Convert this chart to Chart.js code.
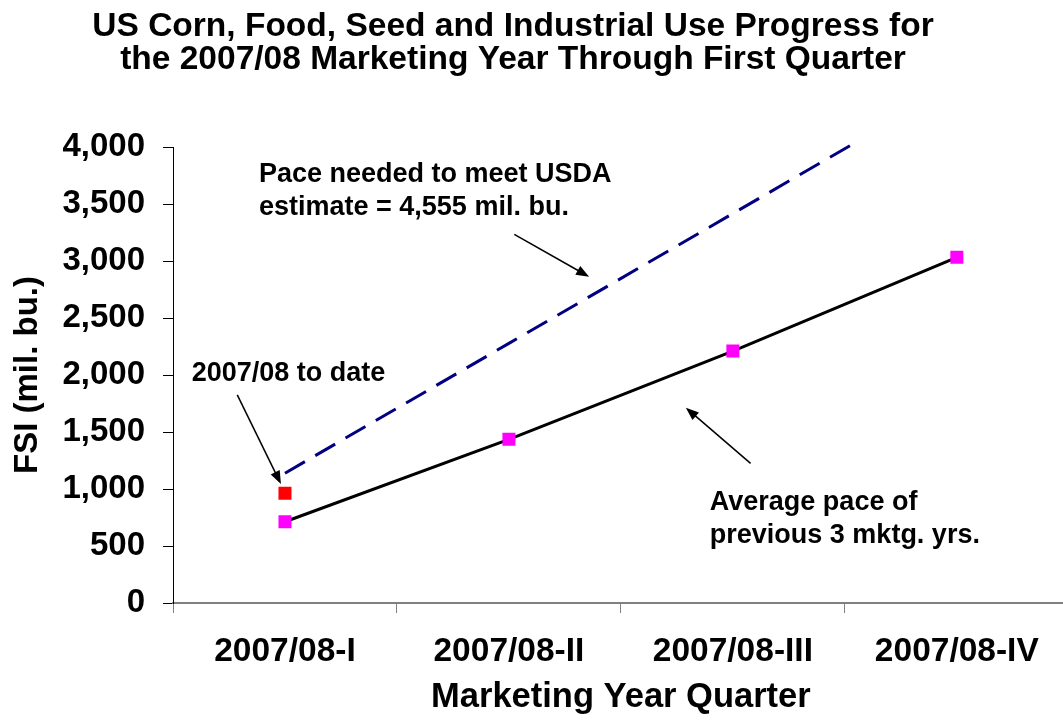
<!DOCTYPE html>
<html>
<head>
<meta charset="utf-8">
<title>US Corn FSI Use Progress</title>
<script src="https://cdn.jsdelivr.net/npm/chart.js@4.4.1/dist/chart.umd.min.js"></script>
<style>
  html, body { margin: 0; padding: 0; background: #fff; overflow: hidden; }
  /* a little wider than the window: the plot runs off the right edge */
  #wrap { width: 1078px; height: 725px; }
</style>
</head>
<body>
<div id="wrap"><canvas id="fsiChart" width="1078" height="725"></canvas></div>
<script>
// Quarterly FSI use, million bushels (cumulative)
const QUARTERS = ['2007/08-I', '2007/08-II', '2007/08-III', '2007/08-IV'];
const USDA_ESTIMATE = 4555;
const USDA_PACE = [1138.75, 2277.5, 3416.25, 4555];
const AVG_PREV_3 = [713, 1436, 2210, 3032];
const TO_DATE = [962, null, null, null];
const Y_MAX = 4000;
const Y_STEP = 500;

const TITLE_LINES = [
  'US Corn, Food, Seed and Industrial Use Progress for',
  'the 2007/08 Marketing Year Through First Quarter'
];

// callouts in data space: [category index, value]
const CALLOUTS = [
  { lines: ['Pace needed to meet USDA', 'estimate = ' + USDA_ESTIMATE.toLocaleString('en-US') + ' mil. bu.'],
    at: [-0.116, 3690], tail: [1.024, 3234], head: [1.358, 2862] },
  { lines: ['2007/08 to date'],
    at: [-0.4165, 1950], tail: [-0.213, 1825], head: [-0.018, 1044] },
  { lines: ['Average pace of', 'previous 3 mktg. yrs.'],
    at: [1.897, 816], tail: [2.079, 1225], head: [1.79, 1713] }
];

const FONT = "'Liberation Sans', Arial, Helvetica, sans-serif";

const titlePlugin = {
  id: 'twoLineTitle',
  afterDraw(chart) {
    const ctx = chart.ctx;
    ctx.save();
    ctx.fillStyle = '#000';
    ctx.font = 'bold 33.5px ' + FONT;
    ctx.textAlign = 'center';
    ctx.textBaseline = 'alphabetic';
    ctx.fillText(TITLE_LINES[0], 513, 36);
    ctx.fillText(TITLE_LINES[1], 513, 69);
    ctx.restore();
  }
};

function drawArrow(ctx, x1, y1, x2, y2) {
  const a = Math.atan2(y2 - y1, x2 - x1);
  const len = 13, half = 5;
  const cos = Math.cos(a), sin = Math.sin(a);
  ctx.beginPath();
  ctx.moveTo(x1, y1);
  ctx.lineTo(x2 - cos * len * 0.7, y2 - sin * len * 0.7);
  ctx.stroke();
  ctx.beginPath();
  ctx.moveTo(x2, y2);
  ctx.lineTo(x2 - len * cos + half * sin, y2 - len * sin - half * cos);
  ctx.lineTo(x2 - len * cos - half * sin, y2 - len * sin + half * cos);
  ctx.closePath();
  ctx.fill();
}

const calloutPlugin = {
  id: 'callouts',
  afterDatasetsDraw(chart) {
    const { ctx, scales: { x, y } } = chart;
    const px = p => [x.getPixelForValue(p[0]), y.getPixelForValue(p[1])];
    ctx.save();
    ctx.fillStyle = '#000';
    ctx.strokeStyle = '#000';
    ctx.lineWidth = 1.5;
    ctx.font = 'bold 27px ' + FONT;
    ctx.textAlign = 'left';
    ctx.textBaseline = 'alphabetic';
    CALLOUTS.forEach(c => {
      const [tx, ty] = px(c.at);
      c.lines.forEach((line, i) => ctx.fillText(line, tx, ty + i * 33));
      const [x1, y1] = px(c.tail);
      const [x2, y2] = px(c.head);
      drawArrow(ctx, x1, y1, x2, y2);
    });
    ctx.restore();
  }
};

new Chart(document.getElementById('fsiChart').getContext('2d'), {
  type: 'line',
  data: {
    labels: QUARTERS,
    datasets: [
      {
        label: '2007/08 to date',
        data: TO_DATE,
        showLine: false,
        pointStyle: 'rect',
        pointRadius: 9.2,
        pointBackgroundColor: '#ff0000',
        pointBorderWidth: 0
      },
      {
        label: 'Average pace of previous 3 mktg. yrs.',
        data: AVG_PREV_3,
        borderColor: '#000',
        borderWidth: 3,
        tension: 0,
        pointStyle: 'rect',
        pointRadius: 9.2,
        pointBackgroundColor: '#ff00ff',
        pointBorderWidth: 0
      },
      {
        label: 'Pace needed to meet USDA estimate',
        data: USDA_PACE,
        borderColor: '#000080',
        borderWidth: 3,
        borderDash: [23, 12],
        tension: 0,
        pointRadius: 0,
        clip: 6
      }
    ]
  },
  options: {
    responsive: false,
    animation: false,
    events: [],
    layout: { padding: { top: 147, right: 0, bottom: 0, left: 0 } },
    plugins: {
      legend: { display: false },
      title: { display: false },
      tooltip: { enabled: false }
    },
    scales: {
      x: {
        offset: true,
        grid: { offset: true, drawOnChartArea: false, tickLength: 10, color: '#808080', lineWidth: 1 },
        border: { color: '#808080', width: 2 },
        ticks: { color: '#000', padding: 19, maxRotation: 0, autoSkip: false, font: { family: FONT, size: 33.5, weight: 'bold' } },
        title: {
          display: true,
          text: 'Marketing Year Quarter',
          color: '#000',
          font: { family: FONT, size: 34.5, weight: 'bold' },
          padding: { top: 4, bottom: 7 }
        },
        afterFit: s => { s.height = 122; s.paddingLeft = 0; s.paddingRight = 0; }
      },
      y: {
        min: 0,
        max: Y_MAX,
        grid: { drawOnChartArea: false, tickLength: 10, color: '#000', lineWidth: 1 },
        border: { color: '#000', width: 1 },
        ticks: { stepSize: Y_STEP, color: '#000', padding: 18, font: { family: FONT, size: 33, weight: 'bold' } },
        title: {
          display: true,
          text: 'FSI (mil. bu.)',
          color: '#000',
          font: { family: FONT, size: 33, weight: 'bold' },
          padding: { top: 8, bottom: 8 }
        },
        afterFit: s => { s.width = 173; }
      }
    }
  },
  plugins: [titlePlugin, calloutPlugin]
});
</script>
</body>
</html>
